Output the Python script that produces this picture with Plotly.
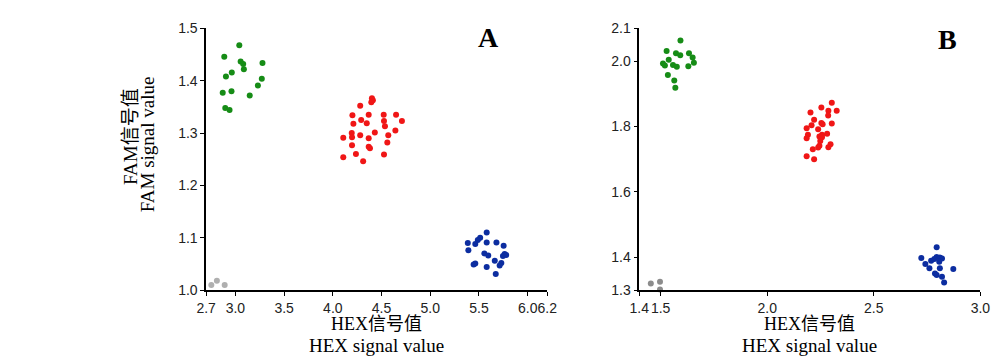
import plotly.graph_objects as go

# ---------------- Panel A data ----------------
a_green_x = [3.04, 2.886, 3.054, 3.080, 3.087, 3.278, 2.903, 2.963, 3.271, 3.231, 2.870, 2.960, 3.147, 2.896, 2.940]
a_green_y = [1.468, 1.446, 1.437, 1.432, 1.422, 1.434, 1.408, 1.416, 1.404, 1.391, 1.377, 1.380, 1.372, 1.348, 1.344]

a_red_x = [4.401, 4.411, 4.395, 4.281, 4.368, 4.522, 4.649, 4.201, 4.709, 4.525, 4.291, 4.348, 4.211, 4.535, 4.431,
           4.642, 4.194, 4.281, 4.107, 4.197, 4.368, 4.569, 4.559, 4.197, 4.368, 4.381, 4.107, 4.237, 4.525, 4.311]
a_red_y = [1.3665, 1.363, 1.359, 1.3525, 1.335, 1.335, 1.335, 1.334, 1.323, 1.323, 1.325, 1.319, 1.318, 1.313, 1.301,
           1.305, 1.300, 1.296, 1.291, 1.292, 1.290, 1.296, 1.282, 1.277, 1.274, 1.271, 1.254, 1.260, 1.259, 1.246]

a_blue_x = [5.579, 5.512, 5.488, 5.385, 5.462, 5.579, 5.679, 5.753, 5.391, 5.555, 5.595, 5.763, 5.746, 5.779,
            5.662, 5.462, 5.445, 5.729, 5.712, 5.579, 5.672]
a_blue_y = [1.110, 1.100, 1.096, 1.090, 1.088, 1.091, 1.091, 1.085, 1.076, 1.070, 1.066, 1.069, 1.065, 1.067,
            1.056, 1.051, 1.049, 1.052, 1.047, 1.044, 1.031]

a_gray_x = [2.753, 2.810, 2.890]
a_gray_y = [1.010, 1.018, 1.010]

a_xticks = [2.7, 3.0, 3.5, 4.0, 4.5, 5.0, 5.5, 6.0, 6.2]
a_yticks = [1.0, 1.1, 1.2, 1.3, 1.4, 1.5]

# ---------------- Panel B data ----------------
b_green_x = [1.593, 1.528, 1.572, 1.592, 1.633, 1.538, 1.650, 1.511, 1.520, 1.558, 1.576, 1.630, 1.656, 1.534, 1.564, 1.569]
b_green_y = [2.063, 2.031, 2.024, 2.018, 2.024, 2.004, 2.011, 1.993, 1.987, 1.988, 1.983, 1.984, 1.995, 1.958, 1.941, 1.919]

b_red_x = [2.303, 2.254, 2.326, 2.287, 2.203, 2.286, 2.220, 2.303, 2.254, 2.260, 2.208, 2.185, 2.239, 2.191,
           2.257, 2.281, 2.245, 2.257, 2.185, 2.249, 2.297, 2.245, 2.287, 2.214, 2.239, 2.185, 2.220]
b_red_y = [1.873, 1.858, 1.848, 1.848, 1.843, 1.834, 1.821, 1.809, 1.811, 1.807, 1.804, 1.795, 1.792, 1.775,
           1.775, 1.778, 1.770, 1.767, 1.764, 1.756, 1.746, 1.741, 1.737, 1.731, 1.736, 1.709, 1.700]

b_blue_x = [2.795, 2.723, 2.795, 2.810, 2.820, 2.742, 2.769, 2.784, 2.807, 2.761, 2.810, 2.873, 2.787, 2.795, 2.820, 2.830]
b_blue_y = [1.431, 1.398, 1.401, 1.400, 1.397, 1.380, 1.390, 1.395, 1.387, 1.367, 1.367, 1.365, 1.351, 1.346, 1.341, 1.323]

b_gray_x = [1.454, 1.497, 1.497]
b_gray_y = [1.320, 1.326, 1.302]

b_xticks = [1.4, 1.5, 2.0, 2.5, 3.0]
b_yticks = [1.3, 1.4, 1.6, 1.8, 2.0, 2.1]

GREEN = "rgb(22,140,22)"
RED = "rgb(240,22,22)"
BLUE = "rgb(12,45,160)"
GRAY_A = "rgb(175,175,175)"
GRAY_B = "rgb(140,140,140)"

fig = go.Figure()

def add(xs, ys, color, xa, ya):
    fig.add_trace(go.Scatter(x=xs, y=ys, mode="markers", xaxis=xa, yaxis=ya,
                             marker=dict(color=color, size=6, line=dict(width=0)),
                             cliponaxis=False, showlegend=False, hoverinfo="x+y"))

add(a_green_x, a_green_y, GREEN, "x", "y")
add(a_red_x, a_red_y, RED, "x", "y")
add(a_blue_x, a_blue_y, BLUE, "x", "y")
add(a_gray_x, a_gray_y, GRAY_A, "x", "y")
add(b_green_x, b_green_y, GREEN, "x2", "y2")
add(b_red_x, b_red_y, RED, "x2", "y2")
add(b_blue_x, b_blue_y, BLUE, "x2", "y2")
add(b_gray_x, b_gray_y, GRAY_B, "x2", "y2")

W, H = 1000, 357
tickfont = dict(family="Liberation Sans Narrow, Liberation Sans, Arial, sans-serif", size=14, color="#222")
axis_common = dict(showline=True, linecolor="black", linewidth=1.5, ticks="outside", ticklen=4,
                   tickcolor="black", tickwidth=1, showgrid=False, zeroline=False, tickfont=tickfont,
                   tickangle=0)

ydom = [1 - 287 / H, 1 - 13 / H]
fig.update_layout(
    width=W, height=H, margin=dict(l=0, r=0, t=0, b=0),
    paper_bgcolor="white", plot_bgcolor="white",
    xaxis=dict(domain=[192 / W, 540 / W], range=[2.7, 6.2], tickvals=a_xticks,
               ticktext=[f"{v:.1f}" for v in a_xticks], anchor="y", **axis_common),
    yaxis=dict(domain=ydom, range=[1.0, 1.5], tickvals=a_yticks,
               ticktext=[f"{v:.1f}" for v in a_yticks], anchor="x", **axis_common),
    xaxis2=dict(domain=[634 / W, 982 / W], range=[1.4, 3.0], tickvals=b_xticks,
                ticktext=[f"{v:.1f}" for v in b_xticks], anchor="y2", **axis_common),
    yaxis2=dict(domain=ydom, range=[1.3, 2.1], tickvals=b_yticks,
                ticktext=[f"{v:.1f}" for v in b_yticks], anchor="x2", **axis_common),
)

serif = "Liberation Serif, Times New Roman, Noto Sans CJK SC, serif"
ann = []
for cx in (366, 808):
    ann.append(dict(x=cx / W, y=1 - 322 / H, xref="paper", yref="paper", text="HEX信号值",
                    showarrow=False, font=dict(family=serif, size=18, color="black"),
                    xanchor="center", yanchor="middle"))
    ann.append(dict(x=cx / W, y=1 - 345 / H, xref="paper", yref="paper", text="HEX signal value",
                    showarrow=False, font=dict(family=serif, size=19, color="black"),
                    xanchor="center", yanchor="middle"))
ann.append(dict(x=115 / W, y=1 - 126 / H, xref="paper", yref="paper", text="FAM信号值",
                showarrow=False, textangle=-90, font=dict(family=serif, size=19, color="black"),
                xanchor="center", yanchor="middle"))
ann.append(dict(x=133 / W, y=1 - 134 / H, xref="paper", yref="paper", text="FAM signal value",
                showarrow=False, textangle=-90, font=dict(family=serif, size=19, color="black"),
                xanchor="center", yanchor="middle"))
ann.append(dict(x=480 / W, y=1 - 22 / H, xref="paper", yref="paper", text="<b>A</b>",
                showarrow=False, font=dict(family=serif, size=28, color="black"),
                xanchor="center", yanchor="middle"))
ann.append(dict(x=948 / W, y=1 - 25 / H, xref="paper", yref="paper", text="<b>B</b>",
                showarrow=False, font=dict(family=serif, size=28, color="black"),
                xanchor="center", yanchor="middle"))
fig.update_layout(annotations=ann)

fig.write_html("out.html")
